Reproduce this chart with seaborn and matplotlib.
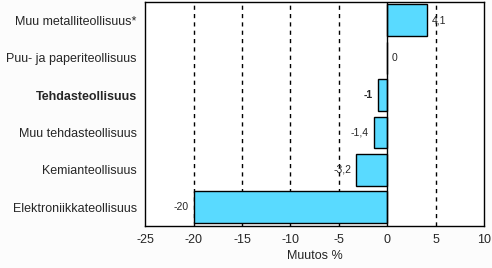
import matplotlib
matplotlib.use("Agg")
import matplotlib.pyplot as plt
import seaborn as sns
import pandas as pd

categories = ["Muu metalliteollisuus*", "Puu- ja paperiteollisuus", "Tehdasteollisuus",
              "Muu tehdasteollisuus", "Kemianteollisuus", "Elektroniikkateollisuus"]
values = [4.1, 0, -1, -1.4, -3.2, -20]
value_labels = ["4,1", "0", "-1", "-1,4", "-3,2", "-20"]
xticks = [-25, -20, -15, -10, -5, 0, 5, 10]

sns.set_theme(style="white")
plt.rcParams['font.family'] = ['Liberation Sans', 'DejaVu Sans']

df = pd.DataFrame({"cat": categories, "val": values})
fig = plt.figure(figsize=(4.92, 2.68), dpi=100, facecolor="#FCFCFC")
ax = fig.add_axes([0.295, 0.157, 0.689, 0.837])
ax.set_facecolor("white")
sns.barplot(data=df, x="val", y="cat", orient="h", color="#59DAFF", saturation=1,
            edgecolor="black", linewidth=1, width=0.85, ax=ax, zorder=3)
ax.set_xlim(-25, 10)
ax.set_xticks(xticks)
ax.set_xticklabels([str(t) for t in xticks], fontsize=9)
for g in [-20, -15, -10, -5, 5]:
    ax.axvline(g, color="black", linestyle=(0, (3, 3)), linewidth=1, zorder=1)
ax.axvline(0, color="black", linewidth=1, zorder=4)
ax.tick_params(axis="both", length=0, pad=6)
ax.set_ylabel("")
ax.set_xlabel("Muutos %", fontsize=9, labelpad=3)
for lbl in ax.get_yticklabels():
    lbl.set_fontsize(9)
    if lbl.get_text() == "Tehdasteollisuus":
        lbl.set_fontweight("bold")
for i, (v, t) in enumerate(zip(values, value_labels)):
    bold = categories[i] == "Tehdasteollisuus"
    if v >= 0:
        ax.text(v + 0.5, i, t, ha="left", va="center", fontsize=7.5,
                fontweight="bold" if bold else "normal")
    else:
        ax.text(v - 0.5, i, t, ha="right", va="center", fontsize=7.5,
                fontweight="bold" if bold else "normal")
for s in ax.spines.values():
    s.set_color("black")
    s.set_linewidth(1)
fig.savefig("out.png", dpi=100, facecolor=fig.get_facecolor())
